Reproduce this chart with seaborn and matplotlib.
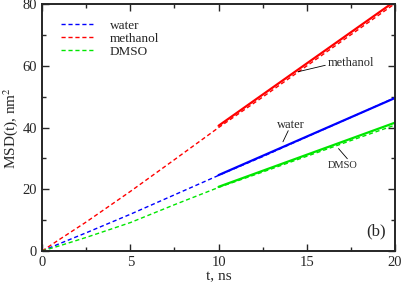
import numpy as np
import pandas as pd
import matplotlib
matplotlib.use('Agg')
import matplotlib.pyplot as plt
from matplotlib.ticker import MultipleLocator
import seaborn as sns

# MSD data (dashed = simulation, solid = linear fits 10-20 ns)
t = [0, 1, 2.5, 5, 7.5, 10, 12.5, 15, 17.5, 20]
msd_water = [0, 2.4, 5.9, 11.9, 18.2, 24.5, 30.6, 37.0, 43.3, 49.7]
msd_methanol = [0, 3.8, 9.4, 19.3, 29.6, 40.0, 49.9, 60.0, 70.1, 80.2]
msd_dmso = [0, 1.7, 4.4, 9.2, 15.0, 20.6, 25.6, 30.7, 35.8, 40.8]

t_fit = [10, 20]
fit_water = [24.6, 49.6]
fit_methanol = [40.6, 81.0]
fit_dmso = [20.8, 41.6]

colors = {'water': '#0000ff', 'methanol': '#ff0000', 'DMSO': '#00e600'}

sns.set_style('ticks')
plt.rcParams['font.family'] = ['Liberation Serif', 'DejaVu Serif']
plt.rcParams['mathtext.fontset'] = 'stix'

fig = plt.figure(figsize=(4.01, 2.82), dpi=100)
ax = fig.add_axes([0.105, 0.11, 0.88, 0.875])

sim = {'water': msd_water, 'methanol': msd_methanol, 'DMSO': msd_dmso}
fits = {'water': fit_water, 'methanol': fit_methanol, 'DMSO': fit_dmso}

for name, vals in sim.items():
    sns.lineplot(x=t, y=vals, ax=ax, color=colors[name], lw=1.0,
                 linestyle=(0, (3, 2)), label=name)
for name, vals in fits.items():
    sns.lineplot(x=t_fit, y=vals, ax=ax, color=colors[name], lw=1.6)

ax.set_xlim(0, 20)
ax.set_ylim(0, 80)
ax.xaxis.set_major_locator(MultipleLocator(5))
ax.xaxis.set_minor_locator(MultipleLocator(2.5))
ax.yaxis.set_major_locator(MultipleLocator(20))
ax.yaxis.set_minor_locator(MultipleLocator(10))
ax.tick_params(which='both', direction='in', top=True, right=True,
               labelsize=10.5, width=1)
ax.tick_params(which='major', length=5)
ax.tick_params(which='minor', length=3)
for s in ax.spines.values():
    s.set_linewidth(1.4)

ax.set_xlabel('t, ns', fontsize=11, labelpad=1)
ax.set_ylabel('MSD(t), nm$^2$', fontsize=11, labelpad=2)

leg = ax.legend(loc='upper left', bbox_to_anchor=(0.02, 0.985), frameon=False,
                fontsize=9.5, handlelength=2.5, handletextpad=1.2,
                labelspacing=0.05)

# annotations: label text plus a thin pointer line
ax.plot([14.5, 16.05], [58.1, 60.2], color='black', lw=0.6)
ax.text(16.2, 61.0, 'methanol', fontsize=9, va='center')
ax.plot([13.95, 13.65], [39.0, 35.4], color='black', lw=0.6)
ax.text(14.1, 41.0, 'water', fontsize=9, ha='center', va='center')
ax.plot([16.8, 17.3], [33.2, 29.9], color='black', lw=0.6)
ax.text(17.05, 27.6, 'DMSO', fontsize=7.5, ha='center', va='center')
ax.text(18.9, 6.5, '(b)', fontsize=12, ha='center', va='center')

fig.savefig('out.png', dpi=100)
